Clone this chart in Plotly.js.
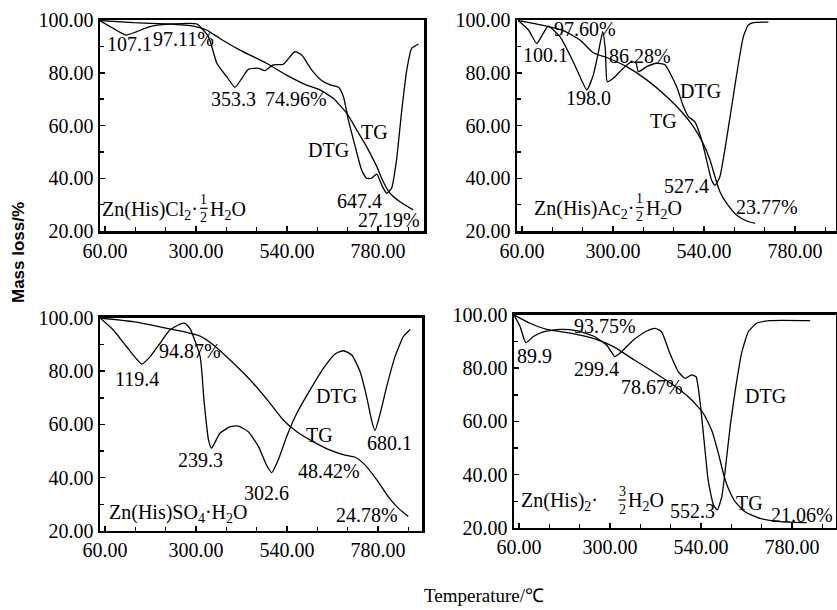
<!DOCTYPE html>
<html><head><meta charset="utf-8">
<script src="https://cdn.plot.ly/plotly-3.0.1.min.js"></script>
<style>html,body{margin:0;padding:0;background:#fff}</style>
</head><body><div id="chart" style="width:837px;height:610px"></div>
<script>
// ---- Tick labels ----
const xTickVals = [60, 300, 540, 780];
const xTickText = ['60.00', '300.00', '540.00', '780.00'];
const yTickVals = [20, 40, 60, 80, 100];
const yTickText = ['20.00', '40.00', '60.00', '80.00', '100.00'];

// ---- Panel 1: Zn(His)Cl2·1/2H2O ----
const clTgTemp = [47, 135, 223, 293, 328, 363, 416, 486, 539, 592, 627, 662, 698, 724, 750, 777, 794, 812, 838, 873];
const clTgMass = [99.8, 99.0, 98.5, 97.7, 96.2, 93.0, 88.6, 83.6, 79.1, 75.3, 73.5, 70.3, 64.6, 58.3, 52.0, 44.4, 38.7, 34.3, 31.1, 28.0];
const clDtgTemp = [47, 82, 115, 144, 179, 240, 302, 333, 355, 381, 403, 421, 438, 465, 482, 504, 530, 548, 561, 579, 605, 632, 654, 676, 689, 702, 720, 737, 750, 763, 777, 790, 803, 816, 829, 843, 856, 869, 887];
const clDtgSig = [99.7, 96.8, 94.3, 95.6, 97.5, 98.5, 98.5, 93.7, 83.6, 78.5, 74.5, 77.9, 81.3, 81.7, 80.8, 83.0, 83.2, 86.1, 88.0, 86.7, 81.1, 77.0, 75.4, 74.5, 70.9, 62.1, 52.0, 43.1, 40.0, 40.0, 41.6, 37.4, 34.3, 36.2, 46.9, 65.9, 81.0, 89.2, 90.9];

// ---- Panel 2: Zn(His)Ac2·1/2H2O ----
const acTgTemp = [50, 90, 129, 169, 213, 248, 288, 336, 389, 442, 481, 512, 538, 556, 569, 582, 600, 626, 653, 675];
const acTgMass = [99.8, 98.7, 97.5, 96.0, 92.4, 87.6, 85.5, 82.3, 77.3, 70.9, 65.2, 59.6, 53.2, 46.9, 40.6, 34.9, 30.5, 26.1, 23.8, 22.9];
const acDtgTemp = [50, 77, 99, 116, 129, 160, 195, 213, 231, 248, 261, 273, 280, 285, 301, 327, 349, 361, 367, 389, 415, 437, 468, 486, 499, 516, 534, 547, 560, 569, 582, 595, 613, 631, 644, 657, 670, 710];
const acDtgSig = [99.8, 96.2, 91.1, 94.9, 97.7, 93.7, 84.2, 78.5, 73.5, 79.1, 87.4, 95.6, 88.6, 76.6, 77.9, 81.7, 84.2, 83.6, 80.4, 82.3, 83.6, 83.0, 74.7, 67.1, 63.4, 61.4, 54.5, 46.9, 39.3, 37.3, 40.6, 50.7, 67.1, 83.6, 93.7, 98.1, 99.0, 99.2];

// ---- Panel 3: Zn(His)SO4·H2O ----
const soTgTemp = [47, 135, 223, 275, 311, 346, 399, 451, 495, 530, 566, 610, 654, 693, 720, 742, 777, 807, 834, 860];
const soTgMass = [100, 98.6, 96.1, 94.6, 93.2, 89.9, 83.0, 75.5, 68.0, 61.7, 57.3, 53.5, 50.4, 48.5, 47.7, 45.4, 39.2, 32.9, 28.5, 25.4];
const soDtgTemp = [47, 82, 117, 157, 179, 205, 231, 258, 271, 284, 311, 321, 333, 341, 363, 390, 412, 438, 465, 486, 500, 517, 539, 566, 601, 636, 667, 689, 711, 733, 750, 763, 772, 785, 803, 825, 847, 865];
const soDtgSig = [100, 95.5, 89.2, 82.7, 85.5, 90.5, 95.5, 97.7, 98.0, 96.1, 85.5, 69.2, 54.2, 51.1, 56.7, 59.2, 59.4, 57.3, 51.7, 44.8, 41.9, 46.7, 55.4, 64.2, 73.0, 81.1, 86.5, 87.7, 86.1, 79.8, 70.5, 61.7, 57.7, 63.6, 74.2, 85.5, 93.0, 95.7];

// ---- Panel 4: Zn(His)2·3/2H2O ----
const hiTgTemp = [47, 89, 133, 199, 256, 309, 362, 414, 467, 511, 546, 568, 586, 599, 612, 630, 656, 696, 748, 819];
const hiTgMass = [100, 96.9, 94.6, 93.1, 91.2, 88.1, 83.3, 78.7, 73.7, 68.7, 63.1, 56.8, 48.0, 40.5, 34.9, 29.9, 26.1, 23.6, 22.4, 22.0];
const hiDtgTemp = [47, 63, 78, 98, 124, 168, 212, 256, 291, 313, 326, 362, 397, 419, 436, 458, 480, 498, 515, 527, 537, 548, 559, 573, 583, 595, 606, 618, 632, 647, 665, 687, 722, 828];
const hiDtgSig = [100, 95.6, 89.6, 91.9, 93.7, 94.6, 94.1, 92.1, 88.7, 84.4, 85.6, 90.6, 94.0, 95.0, 93.7, 85.6, 78.7, 76.2, 77.5, 76.8, 68.1, 53.1, 38.0, 28.6, 26.8, 31.8, 44.3, 59.3, 73.1, 85.6, 93.7, 96.9, 97.9, 97.9];

// ---- build ----
const SERIF = 'Liberation Serif';
const lineStyle = {color: '#000', width: 1.3, shape: 'spline', smoothing: 0.5};
function tr(x, y, ax, name) {
  return {x: x, y: y, xaxis: 'x' + ax, yaxis: 'y' + ax, type: 'scatter', mode: 'lines',
          line: lineStyle, name: name, showlegend: false, hoverinfo: 'skip'};
}
const data = [
  tr(clTgTemp, clTgMass, '', 'TG'), tr(clDtgTemp, clDtgSig, '', 'DTG'),
  tr(acTgTemp, acTgMass, '2', 'TG'), tr(acDtgTemp, acDtgSig, '2', 'DTG'),
  tr(soTgTemp, soTgMass, '3', 'TG'), tr(soDtgTemp, soDtgSig, '3', 'DTG'),
  tr(hiTgTemp, hiTgMass, '4', 'TG'), tr(hiDtgTemp, hiDtgSig, '4', 'DTG')
];

function xax(dom, xmax) {
  return {domain: dom, range: [46.8, xmax], tickvals: xTickVals, ticktext: xTickText,
    ticks: 'inside', ticklen: 5, tickwidth: 1.5, tickcolor: '#000',
    minor: {tick0: 60, dtick: 80, ticks: 'inside', ticklen: 4, tickwidth: 1.5, tickcolor: '#000', showgrid: false},
    showline: true, mirror: true, linecolor: '#000', linewidth: 2.5,
    showgrid: false, zeroline: false, tickfont: {family: SERIF, size: 20, color: '#000'}};
}
function yax(dom) {
  return {domain: dom, range: [20, 100], tickvals: yTickVals, ticktext: yTickText,
    ticks: 'inside', ticklen: 5, tickwidth: 1.5, tickcolor: '#000',
    minor: {tick0: 20, dtick: 10, ticks: 'inside', ticklen: 4, tickwidth: 1.5, tickcolor: '#000', showgrid: false},
    showline: true, mirror: true, linecolor: '#000', linewidth: 2.5,
    showgrid: false, zeroline: false, tickfont: {family: SERIF, size: 20, color: '#000'}};
}

function A(text, x, y, ax, extra) {
  const o = {text: text, x: x, y: y, xref: 'x' + ax, yref: 'y' + ax, showarrow: false,
    xanchor: 'center', yanchor: 'middle', font: {family: SERIF, size: 20, color: '#000'}};
  return Object.assign(o, extra || {});
}
const R = {xanchor: 'right'};
const L = {xanchor: 'left'};
function frac(num, x, y, ax) {
  return A(num + '<br>2', x, y, ax, {font: {family: SERIF, size: 14, color: '#000'}});
}
function bar(x, y, ax) {
  return {type: 'line', xref: 'x' + ax, yref: 'y' + ax, x0: x - 10, x1: x + 10, y0: y, y1: y,
          line: {color: '#000', width: 1.2}};
}

const annotations = [
  // panel 1
  A('107.1', 124, 90.9, ''), A('97.11%', 268, 92.8, ''),
  A('353.3', 400, 70.0, ''), A('74.96%', 565, 70.0, ''),
  A('TG', 772, 57.7, ''), A('DTG', 649, 50.9, ''),
  A('647.4', 731, 31.5, ''), A('27.19%', 810, 24.2, ''),
  A('Zn(His)Cl<sub>2</sub>·', 310, 27.7, '', R),
  frac('1', 321, 28.6, ''),
  A('H<sub>2</sub>O', 331, 27.7, '', L),
  // panel 2
  A('100.1', 123, 86.7, '2'), A('97.60%', 226, 96.5, '2'),
  A('198.0', 235, 70.3, '2'), A('86.28%', 371, 86.4, '2'),
  A('DTG', 531, 73.2, '2'), A('TG', 433, 61.8, '2'),
  A('527.4', 494, 37.2, '2'), A('23.77%', 707, 29.0, '2'),
  A('Zn(His)Ac<sub>2</sub>·', 360, 28.2, '2', R),
  frac('1', 371, 28.9, '2'),
  A('H<sub>2</sub>O', 381, 28.2, '2', L),
  // panel 3
  A('119.4', 145, 77.0, '3'), A('94.87%', 284, 87.7, '3'),
  A('DTG', 671, 70.7, '3'), A('239.3', 311, 46.7, '3'),
  A('TG', 627, 56.1, '3'), A('680.1', 810, 53.2, '3'),
  A('302.6', 486, 34.1, '3'), A('48.42%', 652, 42.7, '3'),
  A('24.78%', 750, 26.0, '3'),
  A('Zn(His)SO<sub>4</sub>·H<sub>2</sub>O', 66, 26.6, '3', L),
  // panel 4
  A('89.9', 102, 84.6, '4'), A('93.75%', 287, 95.9, '4'),
  A('299.4', 265, 79.6, '4'), A('78.67%', 410, 73.1, '4'),
  A('DTG', 709, 69.6, '4'), A('552.3', 518, 26.5, '4'),
  A('TG', 667, 29.3, '4'), A('21.06%', 806, 24.9, '4'),
  A('Zn(His)<sub>2</sub>·', 60, 29.9, '4', L),
  frac('3', 332, 30.5, '4'),
  A('H<sub>2</sub>O', 343, 29.9, '4', L),
  // axis titles
  {text: 'Temperature/℃', x: 484 / 837, y: (610 - 595) / 610, xref: 'paper', yref: 'paper',
   showarrow: false, xanchor: 'center', yanchor: 'middle', font: {family: SERIF, size: 19, color: '#000'}},
  {text: '<b>Mass loss/%</b>', x: 19 / 837, y: (610 - 253) / 610, xref: 'paper', yref: 'paper',
   showarrow: false, xanchor: 'center', yanchor: 'middle', textangle: -90,
   font: {family: 'Liberation Sans', size: 17, color: '#000'}}
];

const shapes = [bar(321, 28.6, ''), bar(371, 28.9, '2'), bar(332, 30.5, '4')];

const layout = {
  width: 837, height: 610,
  margin: {l: 0, r: 0, t: 0, b: 0},
  paper_bgcolor: '#fff', plot_bgcolor: '#fff',
  font: {family: SERIF, size: 20, color: '#000'},
  showlegend: false,
  xaxis: xax([100 / 837, 424 / 837], 901.5),
  yaxis: yax([0.62131, 0.96721]),
  xaxis2: xax([517 / 837, 836 / 837], 888.3),
  yaxis2: yax([0.62131, 0.96721]),
  xaxis3: xax([100 / 837, 422 / 837], 896.2),
  yaxis3: yax([0.12951, 0.47869]),
  xaxis4: xax([514 / 837, 836 / 837], 896.2),
  yaxis4: yax([0.13443, 0.48361]),
  annotations: annotations,
  shapes: shapes
};
layout.xaxis.anchor = 'y'; layout.yaxis.anchor = 'x';
layout.xaxis2.anchor = 'y2'; layout.yaxis2.anchor = 'x2';
layout.xaxis3.anchor = 'y3'; layout.yaxis3.anchor = 'x3';
layout.xaxis4.anchor = 'y4'; layout.yaxis4.anchor = 'x4';

Plotly.newPlot('chart', data, layout, {staticPlot: true, displayModeBar: false});
</script>
</body></html>
